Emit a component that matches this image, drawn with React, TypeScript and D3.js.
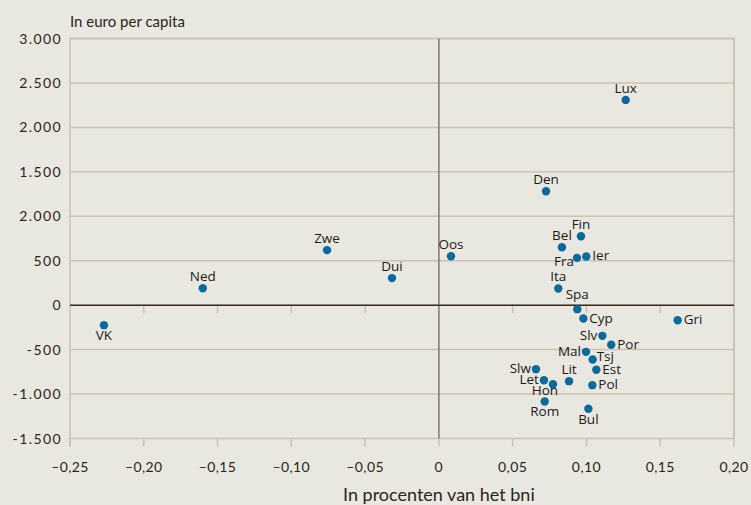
import React from "react";
import * as d3 from "d3";

const countries = ["VK","Ned","Zwe","Dui","Oos","Den","Lux","Fin","Bel","Fra","Ier","Ita","Spa","Cyp","Gri","Slv","Por","Mal","Tsj","Est","Slw","Let","Hon","Lit","Pol","Rom","Bul"];
const pctBni = [-0.227,-0.160,-0.0758,-0.0318,0.0082,0.0726,0.1266,0.0963,0.0834,0.0936,0.0999,0.0809,0.0938,0.0979,0.1618,0.1108,0.1168,0.0997,0.1042,0.1067,0.0658,0.0712,0.0773,0.0882,0.1040,0.0717,0.1013];
const euroPerCapita = [-225,191,619,304,551,1282,2309,776,652,532,548,188,-45,-150,-169,-345,-446,-525,-611,-727,-720,-844,-889,-855,-900,-1083,-1166];
const labelSide = ["b","t","t","t","t","t","t","t","t","bl","r","t","t2","r","r","l","r","l","tr","r","l","l","bw","t","r","b","b"];

const xTicks = [-0.25,-0.2,-0.15,-0.1,-0.05,0,0.05,0.1,0.15,0.2];
const xTickLabels = ["\u20130,25","\u20130,20","\u20130,15","\u20130,10","\u20130,05","0","0,05","0,10","0,15","0,20"];
const yTicks = [3000,2500,2000,1500,1000,500,0,-500,-1000,-1500];
const yTickLabels = ["3.000","2.500","2.000","1.500","2.000","500","0","-500","-1.000","-1.500"];

export default function App() {
  const W = 751, H = 505;
  const left = 70, right = 734, top = 38.5, bottom = 438.5;
  const x = d3.scaleLinear().domain([-0.25, 0.2]).range([left, right]);
  const y = d3.scaleLinear().domain([-1500, 3000]).range([bottom, top]);
  const grid = "#cdc2ad";
  const font = "Lato, 'Open Sans', sans-serif";

  const labelOffset = (s: string) => {
    switch (s) {
      case "t": return { dx: 0, dy: -7, anchor: "middle" };
      case "t2": return { dx: 0, dy: -10, anchor: "middle" };
      case "b": return { dx: 0, dy: 15, anchor: "middle" };
      case "bw": return { dx: -8, dy: 11, anchor: "middle" };
      case "l": return { dx: -5, dy: 4, anchor: "end" };
      case "r": return { dx: 6, dy: 4, anchor: "start" };
      case "bl": return { dx: -3, dy: 8, anchor: "end" };
      case "tr": return { dx: 4, dy: 2, anchor: "start" };
      default: return { dx: 0, dy: 0, anchor: "middle" };
    }
  };

  return (
    <svg width={W} height={H} style={{ position: "absolute", left: 0, top: 0, display: "block" }}>
      <rect x={0} y={0} width={W} height={H} fill="#e9e8e0" />
      {yTicks.map((t) => (
        <line key={"g" + t} x1={left} x2={right} y1={y(t)} y2={y(t)} stroke={grid} strokeWidth={t === 3000 ? 2 : 1.5} />
      ))}
      <line x1={right} x2={right} y1={top - 1} y2={bottom} stroke={grid} strokeWidth={2} />
      <line x1={left} x2={left} y1={top - 1} y2={bottom + 8} stroke={grid} strokeWidth={1.5} />
      {xTicks.map((t) => (
        <g key={"xt" + t}>
          <line x1={x(t)} x2={x(t)} y1={bottom} y2={bottom + 8} stroke={grid} strokeWidth={1.5} />
          {t !== 0 && t !== -0.25 && t !== 0.2 && (
            <line x1={x(t)} x2={x(t)} y1={y(0)} y2={y(0) + 8} stroke={grid} strokeWidth={1.5} />
          )}
        </g>
      ))}
      <line x1={x(0)} x2={x(0)} y1={top} y2={bottom} stroke="#857566" strokeWidth={1.5} />
      <line x1={left} x2={right} y1={y(0)} y2={y(0)} stroke="#3b2a20" strokeWidth={1.5} />
      {yTicks.map((t, i) => (
        <text key={"yl" + t} x={62} y={y(t) + 5} textAnchor="end" fontFamily={font} fontSize={14} letterSpacing={1.4} fill="#2a2420">{yTickLabels[i]}</text>
      ))}
      {xTicks.map((t, i) => (
        <text key={"xl" + t} x={x(t)} y={472} textAnchor="middle" fontFamily={font} fontSize={14} letterSpacing={0.4} fill="#2a2420">{xTickLabels[i]}</text>
      ))}
      <text x={70} y={27} fontFamily={font} fontSize={15} fill="#2a2420">In euro per capita</text>
      <text x={x(0)} y={501} textAnchor="middle" fontFamily={font} fontSize={18} fill="#2a2420">In procenten van het bni</text>
      {countries.map((c, i) => {
        const cx = x(pctBni[i]);
        const cy = y(euroPerCapita[i]);
        const o = labelOffset(labelSide[i]);
        return (
          <g key={c}>
            <circle cx={cx} cy={cy} r={4.2} fill="#0b6a9b" />
            <text x={cx + o.dx} y={cy + o.dy} textAnchor={o.anchor as any} fontFamily="'Open Sans', sans-serif" fontSize={13.5} fill="#1e1a18">{c}</text>
          </g>
        );
      })}
    </svg>
  );
}
